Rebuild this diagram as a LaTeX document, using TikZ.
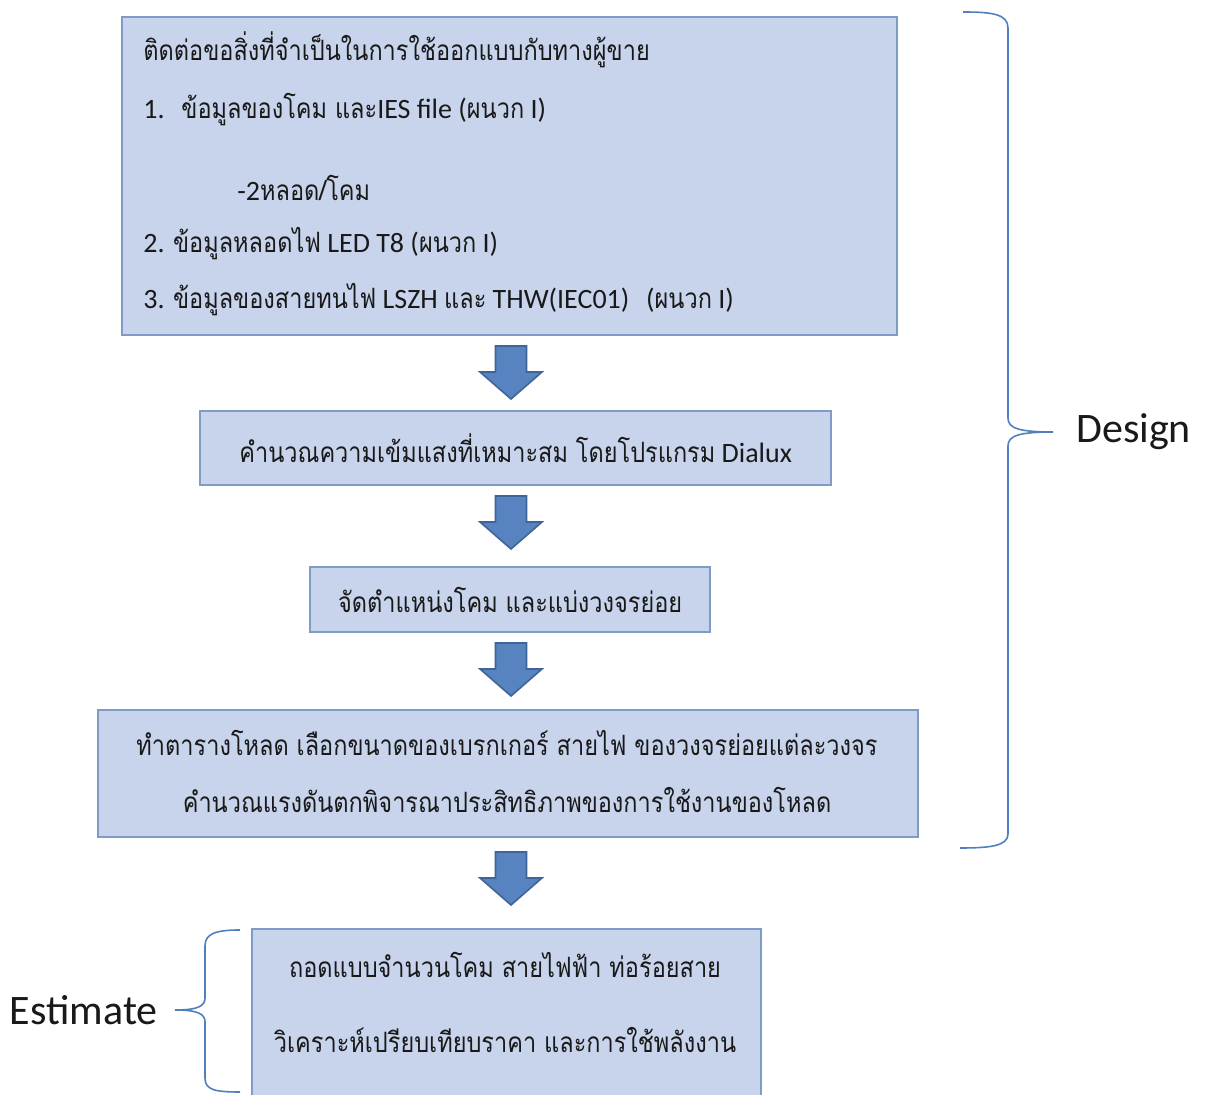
\documentclass[tikz,border=0pt]{standalone}
\usepackage{fontspec}
\setmainfont{Carlito}
\newfontfamily\thaifont[Script=Thai, FakeStretch=0.84]{Loma}
\newcommand{\T}[1]{{\thaifont #1}}
\definecolor{boxfill}{HTML}{C7D4EC}
\definecolor{boxline}{HTML}{7F9BC8}
\definecolor{arrfill}{HTML}{5784C0}
\definecolor{arrline}{HTML}{3F6498}
\definecolor{bracecol}{HTML}{4F7FBF}
\tikzset{
  stepbox/.style={draw=boxline, fill=boxfill, line width=1.2pt, inner sep=0pt},
  txt/.style={inner sep=0pt, font=\fontsize{14pt}{16pt}\selectfont, text=black!90},
  lbl/.style={inner sep=0pt, font=\fontsize{21pt}{24pt}\selectfont, text=black!90},
  brace/.style={draw=bracecol, line width=0.8pt},
  flow/.style={fill=arrfill, draw=arrline, line width=0.8pt, line join=miter}
}
\newcommand{\downarrowshape}[2]{% #1 = x center, #2 = top y (px)
  \path[flow] (#1-15.5,#2) -- (#1+15.5,#2) -- (#1+15.5,#2+26) -- (#1+31,#2+26)
    -- (#1,#2+53) -- (#1-31,#2+26) -- (#1-15.5,#2+26) -- cycle;}
\begin{document}
\begin{tikzpicture}[x=0.5pt, y=-0.5pt]
\useasboundingbox (0,0) rectangle (1206,1095);
% boxes
\node[stepbox, minimum width=387.5pt, minimum height=159pt, anchor=north west] (b1) at (121,16) {};
\node[stepbox, minimum width=315.5pt, minimum height=37pt, anchor=north west] (b2) at (199,410) {};
\node[stepbox, minimum width=200pt, minimum height=32.5pt, anchor=north west] (b3) at (309,566) {};
\node[stepbox, minimum width=410pt, minimum height=63.5pt, anchor=north west] (b4) at (97,709) {};
\node[stepbox, minimum width=254.5pt, minimum height=85pt, anchor=north west] (b5) at (251,928) {};
% texts box 1
\node[txt, anchor=west] (t11) at (143,50) {\T{ติดต่อขอสิ่งที่จำเป็นในการใช้ออกแบบกับทางผู้ขาย}};
\node[txt, anchor=west] (t12) at (143,110) {1.\hspace{0.6em}\T{ข้อมูลของโคม และ}IES file (\T{ผนวก} I)};
\node[txt, anchor=west] (t13) at (237,188) {-2\T{หลอด/โคม}};
\node[txt, anchor=west] (t14) at (143,244) {2. \T{ข้อมูลหลอดไฟ} LED T8 (\T{ผนวก} I)};
\node[txt, anchor=west] (t15) at (143,300) {3. \T{ข้อมูลของสายทนไฟ} LSZH \T{และ} THW(IEC01)\hspace{0.6em}(\T{ผนวก} I)};
% box 2
\node[txt] (t2) at (b2.center) {\T{คำนวณความเข้มแสงที่เหมาะสม โดยโปรแกรม} Dialux};
% box 3
\node[txt] (t3) at (b3.center) {\T{จัดตำแหน่งโคม และแบ่งวงจรย่อย}};
% box 4
\node[txt] (t41) at (507,743) {\T{ทำตารางโหลด เลือกขนาดของเบรกเกอร์ สายไฟ ของวงจรย่อยแต่ละวงจร}};
\node[txt] (t42) at (507,800) {\T{คำนวณแรงดันตกพิจารณาประสิทธิภาพของการใช้งานของโหลด}};
% box 5
\node[txt] (t51) at (505,965) {\T{ถอดแบบจำนวนโคม สายไฟฟ้า ท่อร้อยสาย}};
\node[txt] (t52) at (505,1040) {\T{วิเคราะห์เปรียบเทียบราคา และการใช้พลังงาน}};
% arrows
\downarrowshape{511}{346}
\downarrowshape{511}{496}
\downarrowshape{511}{643}
\downarrowshape{511}{852}
% labels
\node[lbl, anchor=west] (design) at (1076,432) {Design};
\node[lbl, anchor=east] (estimate) at (158,1010) {Estimate};
% right brace
\coordinate (rtip) at (1053,432);
\path[brace] (963,12) .. controls (992,12) and (1008,14) .. (1008,28) -- (1008,418)
  .. controls (1008,428) and (1018,432) .. (rtip)
  .. controls (1018,432) and (1008,436) .. (1008,446) -- (1008,834)
  .. controls (1008,846) and (990,848) .. (960,848);
% left brace
\coordinate (ltip) at (175,1010);
\path[brace] (240,930) .. controls (215,930) and (205,934) .. (205,946) -- (205,998)
  .. controls (205,1006) and (198,1010) .. (ltip)
  .. controls (198,1010) and (205,1014) .. (205,1022) -- (205,1078)
  .. controls (205,1090) and (215,1092) .. (240,1092);
\end{tikzpicture}
\end{document}
